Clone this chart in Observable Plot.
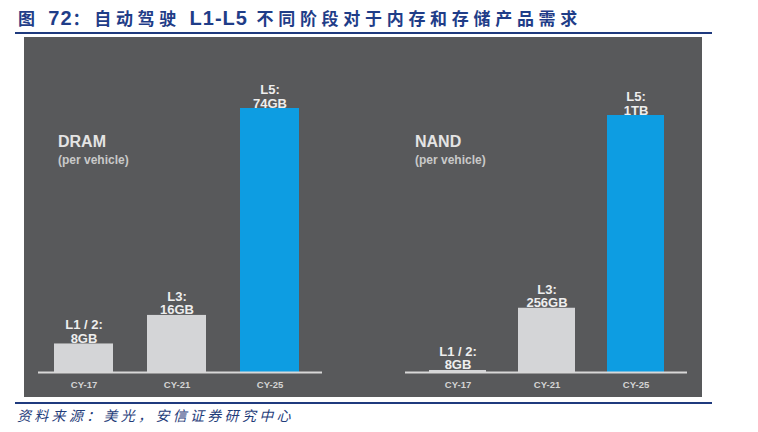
<!DOCTYPE html>
<html>
<head>
<meta charset="utf-8">
<script src="https://cdn.jsdelivr.net/npm/d3@7"></script>
<script src="https://cdn.jsdelivr.net/npm/@observablehq/plot@0.6"></script>
<style>
  body { margin: 0; background: #fff; width: 758px; height: 432px; position: relative; overflow: hidden; font-family: "Liberation Sans", Arial, sans-serif; }
  #title { position: absolute; left: 18px; top: 6px; font-family: "Noto Sans CJK SC", sans-serif; font-weight: bold; font-size: 17px; letter-spacing: 4.7px; color: #1f3d88; white-space: nowrap; line-height: 24px; }
  #title .lat { font-family: "Liberation Sans", Arial, sans-serif; font-size: 20px; letter-spacing: 1px; }
  .hline { position: absolute; left: 15px; width: 697px; height: 2px; background: #1f3a7e; }
  #panel { position: absolute; left: 24px; top: 37px; width: 678px; height: 360px; background: #58595b; }
  .chart { position: absolute; top: 0; }
  .head { position: absolute; top: 95px; color: #e4e4e4; font-weight: bold; font-size: 16px; line-height: 20px; }
  .head .sub { font-size: 12px; color: #c9c9c9; line-height: 17px; }
  #source { position: absolute; left: 17px; top: 405px; font-family: "Noto Sans CJK SC", sans-serif; font-style: italic; font-size: 14px; letter-spacing: 3.3px; color: #1f3d7a; white-space: nowrap; }
</style>
</head>
<body>
<div id="title">图 <span class="lat">72</span>：自动驾驶 <span class="lat">L1-L5</span> 不同阶段对于内存和存储产品需求</div>
<div class="hline" style="top:32px"></div>
<div id="panel">
  <div class="chart" id="dram" style="left:0"></div>
  <div class="chart" id="nand" style="left:339px"></div>
  <div class="head" style="left:34px">DRAM<div class="sub">(per vehicle)</div></div>
  <div class="head" style="left:391px">NAND<div class="sub">(per vehicle)</div></div>
</div>
<div class="hline" style="top:402px"></div>
<div id="source">资料来源：美光，安信证券研究中心</div>
<script>
var years = ["CY-17", "CY-21", "CY-25"];
var levels = ["L1 / 2:", "L3:", "L5:"];
var dram = [8, 16, 74];
var dramLabels = ["8GB", "16GB", "74GB"];
var nand = [8, 256, 1024];
var nandLabels = ["8GB", "256GB", "1TB"];

function draw_chart(id, values, labels, opts) {
  var data = years.map(function (y, i) {
    return { year: y, value: values[i], label: levels[i] + "\n" + labels[i] };
  });
  var options = {
    width: 339,
    height: 360,
    marginTop: opts.top,
    marginBottom: 25,
    marginLeft: opts.left,
    marginRight: opts.right,
    style: { background: "transparent", fontFamily: "Liberation Sans, Arial, sans-serif" },
    x: { domain: years, padding: opts.padding, paddingOuter: opts.outer, align: opts.align, label: null },
    y: { domain: [0, d3.max(values)], axis: null },
    marks: [
      Plot.barY(data, {
        x: "year",
        y: "value",
        fill: function (d) { return d.year === "CY-25" ? "#0d9de2" : "#d4d5d7"; },
      }),
      Plot.ruleY([0], { stroke: "#d8d8d8", strokeWidth: 2 }),
      Plot.text(data, {
        x: "year",
        y: "value",
        text: "label",
        lineAnchor: "bottom",
        dy: -1,
        fill: "#eeeeee",
        fontSize: 13,
        fontWeight: "bold",
        lineHeight: 1.05,
      }),
      Plot.axisX({ tickSize: 0, tickPadding: 9, fontSize: 9.5, fontWeight: "bold", fill: "#d4d4d4", label: null }),
    ],
  };
  document.getElementById(id).append(Plot.plot(options));
}

draw_chart("dram", dram, dramLabels, { top: 71, left: 14, right: 41, padding: 0.37, outer: 0.2, align: 0.4 });
draw_chart("nand", nand, nandLabels, { top: 78, left: 42, right: 15, padding: 0.36, outer: 0.264, align: 0.5 });
</script>
</body>
</html>
